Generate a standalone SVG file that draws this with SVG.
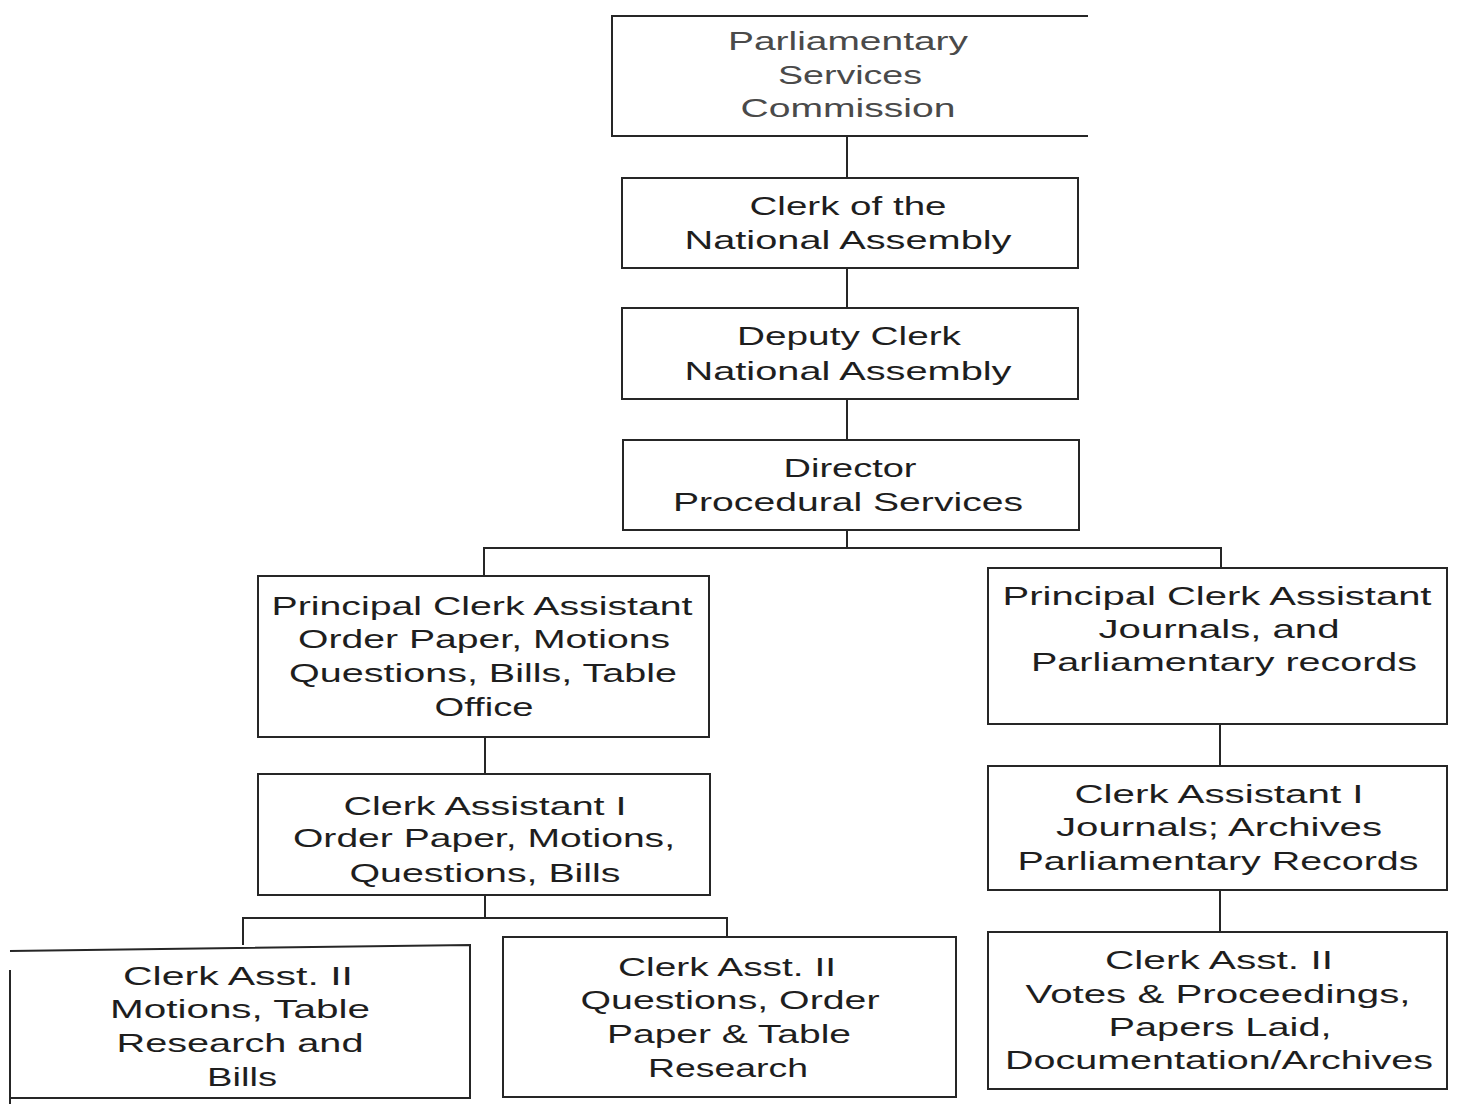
<svg xmlns="http://www.w3.org/2000/svg" width="1458" height="1104" viewBox="0 0 1458 1104">
  <style>
    .box { fill: none; stroke: #262626; stroke-width: 2; }
    .link { fill: none; stroke: #262626; stroke-width: 2; }
    text { font-family: "Liberation Sans", Arial, sans-serif; font-size: 26px; fill: #1e1e1e; text-anchor: middle; }
    .faint { fill: #4a4a4a; }
  </style>
  <rect x="0" y="0" width="1458" height="1104" fill="#ffffff"/>

  <!-- connectors -->
  <g id="connectors">
    <line class="link" x1="847" y1="136" x2="847" y2="178"/>
    <line class="link" x1="847" y1="268" x2="847" y2="308"/>
    <line class="link" x1="847" y1="399" x2="847" y2="440"/>
    <polyline class="link" points="847,530 847,548"/>
    <polyline class="link" points="484,576 484,548 1221,548 1221,568"/>
    <line class="link" x1="485" y1="737" x2="485" y2="774"/>
    <line class="link" x1="1220" y1="724" x2="1220" y2="766"/>
    <line class="link" x1="1220" y1="890" x2="1220" y2="932"/>
    <line class="link" x1="485" y1="895" x2="485" y2="918"/>
    <polyline class="link" points="243,945 243,918 727,918 727,937"/>
  </g>

  <!-- top node: right side left open -->
  <g id="commission">
    <path class="box" d="M1088,16 H612 V136 H1088"/>
    <text class="faint" x="848" y="50" textLength="240" lengthAdjust="spacingAndGlyphs">Parliamentary</text>
    <text class="faint" x="850" y="84" textLength="144" lengthAdjust="spacingAndGlyphs">Services</text>
    <text class="faint" x="848" y="117" textLength="215" lengthAdjust="spacingAndGlyphs">Commission</text>
  </g>

  <g id="clerk">
    <rect class="box" x="622" y="178" width="456" height="90"/>
    <text x="848" y="215" textLength="197" lengthAdjust="spacingAndGlyphs">Clerk of the</text>
    <text x="848" y="249" textLength="327" lengthAdjust="spacingAndGlyphs">National Assembly</text>
  </g>

  <g id="deputy-clerk">
    <rect class="box" x="622" y="308" width="456" height="91"/>
    <text x="849" y="345" textLength="224" lengthAdjust="spacingAndGlyphs">Deputy Clerk</text>
    <text x="848" y="380" textLength="327" lengthAdjust="spacingAndGlyphs">National Assembly</text>
  </g>

  <g id="director">
    <rect class="box" x="623" y="440" width="456" height="90"/>
    <text x="850" y="477" textLength="133" lengthAdjust="spacingAndGlyphs">Director</text>
    <text x="848" y="511" textLength="350" lengthAdjust="spacingAndGlyphs">Procedural Services</text>
  </g>

  <g id="pca-order-paper">
    <rect class="box" x="258" y="576" width="451" height="161"/>
    <text x="482" y="615" textLength="421" lengthAdjust="spacingAndGlyphs">Principal Clerk Assistant</text>
    <text x="484" y="648" textLength="372" lengthAdjust="spacingAndGlyphs">Order Paper, Motions</text>
    <text x="483" y="682" textLength="388" lengthAdjust="spacingAndGlyphs">Questions, Bills, Table</text>
    <text x="484" y="716" textLength="99" lengthAdjust="spacingAndGlyphs">Office</text>
  </g>

  <g id="pca-journals">
    <rect class="box" x="988" y="568" width="459" height="156"/>
    <text x="1217" y="605" textLength="429" lengthAdjust="spacingAndGlyphs">Principal Clerk Assistant</text>
    <text x="1219" y="638" textLength="241" lengthAdjust="spacingAndGlyphs">Journals, and</text>
    <text x="1224" y="671" textLength="386" lengthAdjust="spacingAndGlyphs">Parliamentary records</text>
  </g>

  <g id="ca1-order-paper">
    <rect class="box" x="258" y="774" width="452" height="121"/>
    <text x="485" y="815" textLength="283" lengthAdjust="spacingAndGlyphs">Clerk Assistant I</text>
    <text x="484" y="847" textLength="382" lengthAdjust="spacingAndGlyphs">Order Paper, Motions,</text>
    <text x="485" y="882" textLength="271" lengthAdjust="spacingAndGlyphs">Questions, Bills</text>
  </g>

  <g id="ca1-journals">
    <rect class="box" x="988" y="766" width="459" height="124"/>
    <text x="1219" y="803" textLength="289" lengthAdjust="spacingAndGlyphs">Clerk Assistant I</text>
    <text x="1219" y="836" textLength="326" lengthAdjust="spacingAndGlyphs">Journals; Archives</text>
    <text x="1218" y="870" textLength="401" lengthAdjust="spacingAndGlyphs">Parliamentary Records</text>
  </g>

  <!-- bottom-left node runs off the left edge -->
  <g id="ca2-motions">
    <path class="box" d="M10,951 L470,945 V1098 H10"/>
    <line class="box" x1="10" y1="970" x2="10" y2="1104"/>
    <text x="238" y="985" textLength="230" lengthAdjust="spacingAndGlyphs">Clerk Asst. II</text>
    <text x="240" y="1018" textLength="260" lengthAdjust="spacingAndGlyphs">Motions, Table</text>
    <text x="240" y="1052" textLength="247" lengthAdjust="spacingAndGlyphs">Research and</text>
    <text x="242" y="1086" textLength="70" lengthAdjust="spacingAndGlyphs">Bills</text>
  </g>

  <g id="ca2-questions">
    <rect class="box" x="503" y="937" width="453" height="160"/>
    <text x="727" y="976" textLength="218" lengthAdjust="spacingAndGlyphs">Clerk Asst. II</text>
    <text x="730" y="1009" textLength="299" lengthAdjust="spacingAndGlyphs">Questions, Order</text>
    <text x="729" y="1043" textLength="244" lengthAdjust="spacingAndGlyphs">Paper &amp; Table</text>
    <text x="728" y="1077" textLength="160" lengthAdjust="spacingAndGlyphs">Research</text>
  </g>

  <g id="ca2-votes">
    <rect class="box" x="988" y="932" width="459" height="157"/>
    <text x="1219" y="969" textLength="228" lengthAdjust="spacingAndGlyphs">Clerk Asst. II</text>
    <text x="1218" y="1003" textLength="385" lengthAdjust="spacingAndGlyphs">Votes &amp; Proceedings,</text>
    <text x="1220" y="1036" textLength="223" lengthAdjust="spacingAndGlyphs">Papers Laid,</text>
    <text x="1219" y="1069" textLength="428" lengthAdjust="spacingAndGlyphs">Documentation/Archives</text>
  </g>
</svg>
